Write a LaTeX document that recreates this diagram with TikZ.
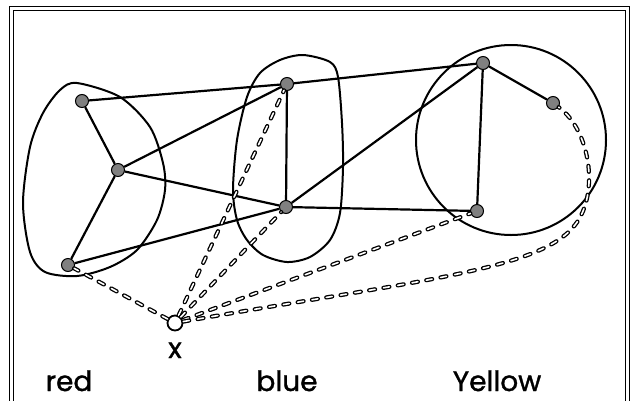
\documentclass[tikz,border=0pt]{standalone}
\usepackage{fontspec}
\newfontfamily\labelfont[FakeBold=1.2]{Poppins}
\begin{document}
\begin{tikzpicture}[x=1pt,y=-1pt,line width=2.2pt,
        vertex/.style={circle,draw,line width=1pt,fill=gray,inner sep=0pt,minimum size=13pt},
        probe/.style={circle,draw,line width=1.8pt,fill=white,inner sep=0pt,minimum size=15pt},
        link/.style={dash pattern=on 6pt off 8.5pt,line cap=round,line width=1.3pt,double=white,double distance=1.6pt},
        region/.style={line width=2pt},
        colname/.style={font=\labelfont\fontsize{28}{28}\selectfont,anchor=base,inner sep=0pt,text depth=0pt}]
    \useasboundingbox (0,0) rectangle (632,400);
    \draw[line width=1.1pt,double=white,double distance=2.6pt] (11.5,402) -- (11.5,8.5) -- (627.5,8.5) -- (627.5,402);

    \draw[region] plot[smooth cycle] coordinates {(77,83) (120,97) (150,127) (163,163) (165,190) (157,220) (137,250) (110,267) (77,276) (45,272) (30,252) (23,203) (30,147) (43,113) (60,90)};
    \draw[region] plot[smooth cycle] coordinates {(303,55) (330,62) (338,77) (342,123) (343,167) (340,213) (330,240) (310,257) (287,262) (263,255) (247,240) (237,220) (233,190) (237,140) (247,97) (260,73) (280,60)};
    \draw[region] (511,140) circle[radius=95];

    \node (r1) [vertex] at (82,101) {};
    \node (r2) [vertex] at (118,170) {};
    \node (r3) [vertex] at (68,265) {};
    \node (b1) [vertex] at (287,84) {};
    \node (b2) [vertex] at (286,207) {};
    \node (y1) [vertex] at (483,63) {};
    \node (y2) [vertex] at (553,103) {};
    \node (y3) [vertex] at (477,211) {};
    \node (xp) [probe] at (175,323) {};

    \draw (r1) -- (b1);
    \draw (r1) -- (r2);
    \draw (r2) -- (b1);
    \draw (r2) -- (b2);
    \draw (r2) -- (r3);
    \draw (r3) -- (b2);
    \draw (b1) -- (b2);
    \draw (b1) -- (y1);
    \draw (b2) -- (y1);
    \draw (b2) -- (y3);
    \draw (y1) -- (y2);
    \draw (y1) -- (y3);

    \draw[link] (xp) -- (r3);
    \draw[link] (xp) -- (b1);
    \draw[link] (xp) -- (b2);
    \draw[link] (xp) -- (y3);
    \draw[link] (xp) .. controls (420,280) and (540,270) .. (575,225) .. controls (600,193) and (590,130) .. (y2);

    \node (xlabel) [colname] at (175,358) {x};
    \node (redlabel) [colname] at (69,391) {red};
    \node (bluelabel) [colname] at (287,391) {blue};
    \node (yellowlabel) [colname] at (497,391) {Yellow};
\end{tikzpicture}
\end{document}
